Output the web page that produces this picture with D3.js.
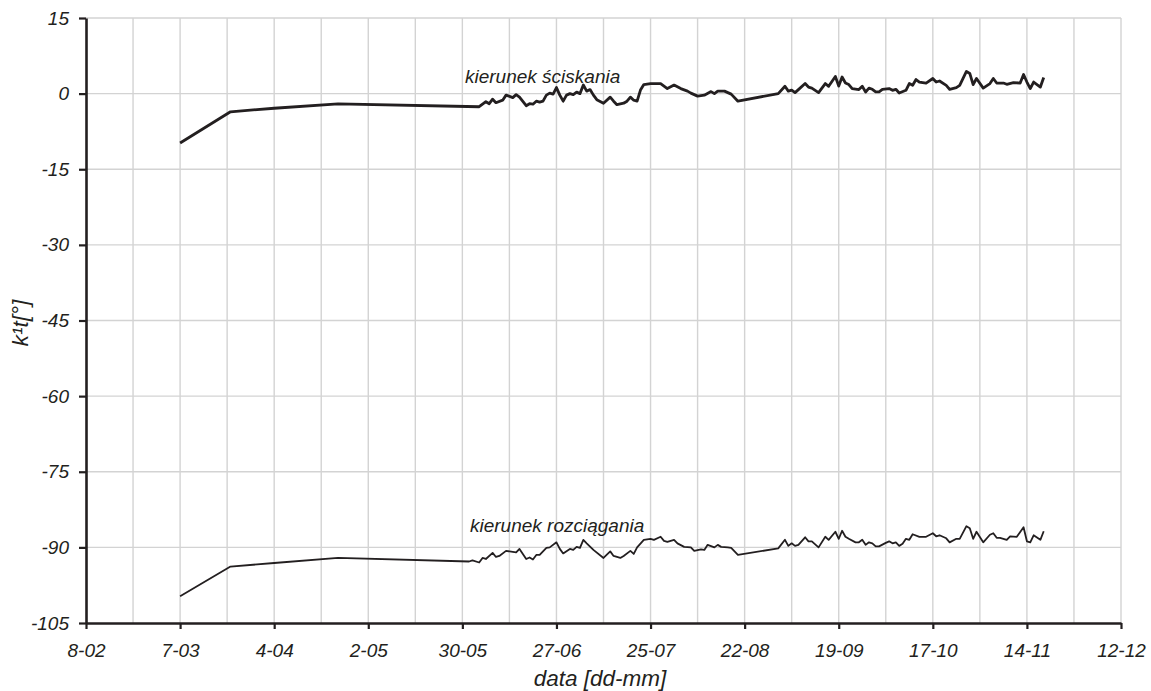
<!DOCTYPE html>
<html>
<head>
<meta charset="utf-8">
<script src="https://cdn.jsdelivr.net/npm/d3@7"></script>
<style>
  body { margin: 0; background: #fff; }
  svg { display: block; }
  text { font-family: "Liberation Sans", Arial, sans-serif; font-style: italic; fill: #231f20; }
</style>
</head>
<body>
<svg id="chart" width="1151" height="691"></svg>
<script>
// Measurement year (leap year) and the observed period
const YEAR = 2008;
const periodStart = [1, 8];   // month index, day  -> 8 Feb
const periodEnd = [11, 12];   // -> 12 Dec

// Direction "kierunek ściskania": day of year and angle [°]
const compressionDays = [67, 82, 95, 114, 156, 157, 158, 159, 160, 161, 163, 164, 166, 167, 168,
  170, 171, 172, 173, 174, 175, 176, 177, 178, 179, 180, 181, 182, 183, 184, 185, 186, 187, 188,
  189, 190, 191, 193, 195, 196, 197, 199, 200, 201, 202, 203, 204, 205, 207, 210, 212, 214, 216,
  218, 219, 221, 223, 225, 226, 227, 229, 231, 233, 245, 247, 248, 249, 250, 251, 253, 254, 255,
  257, 259, 260, 262, 263, 264, 265, 266, 267, 269, 270, 271, 272, 273, 274, 275, 276, 278, 279,
  280, 281, 283, 284, 285, 286, 287, 289, 291, 292, 293, 295, 296, 298, 299, 301, 302, 303, 304,
  306, 308, 309, 310, 312, 313, 315, 317, 318, 319, 320, 321, 323, 324];
const compressionValues = [-9.8, -3.6, -2.9, -2.05, -2.6, -2.1, -1.6, -2.0, -1.1, -1.8, -1.3, -0.3,
  -0.8, -0.2, -0.7, -2.4, -2.0, -2.1, -1.5, -1.7, -1.5, -0.3, 0.1, -0.1, 1.2, -0.3, -1.5, -0.3, 0.0,
  -0.2, 0.3, 0.0, 1.7, 0.5, 0.8, -0.3, -1.2, -1.9, -0.7, -1.5, -2.2, -1.9, -1.5, -0.7, -1.3, -1.5,
  0.7, 1.8, 2.0, 2.0, 1.0, 1.7, 1.0, 0.5, 0.1, -0.5, -0.3, 0.4, 0.0, 0.5, 0.5, -0.1, -1.5, 0.0,
  1.45, 0.5, 0.7, 0.2, 0.8, 2.0, 1.3, 1.1, 0.2, 2.0, 1.45, 3.4, 1.5, 3.3, 2.1, 1.8, 1.0, 0.8, 1.45,
  0.33, 1.1, 0.86, 0.33, 0.33, 0.86, 1.0, 0.66, 0.86, 0.13, 0.66, 2.0, 1.65, 2.8, 2.3, 2.1, 3.0,
  2.3, 2.5, 1.65, 0.86, 1.2, 1.65, 4.4, 4.0, 1.8, 3.0, 1.1, 2.0, 3.0, 2.1, 2.1, 1.85, 2.2, 2.1,
  3.8, 2.3, 1.0, 2.3, 1.3, 3.2];

// Direction "kierunek rozciągania": day of year and angle [°]
const tensionDays = [67, 82, 95, 114, 153, 154, 156, 157, 158, 160, 161, 162, 164, 166, 167, 168,
  170, 171, 172, 173, 174, 176, 177, 179, 180, 181, 183, 184, 185, 186, 187, 188, 190, 193, 195,
  196, 198, 199, 201, 202, 203, 205, 207, 208, 210, 211, 212, 214, 215, 217, 219, 220, 222, 223,
  224, 226, 227, 228, 230, 231, 233, 245, 247, 248, 249, 250, 251, 253, 254, 255, 257, 259, 260,
  262, 263, 264, 265, 266, 268, 269, 270, 271, 272, 273, 274, 275, 277, 278, 279, 280, 281, 282,
  283, 284, 285, 287, 289, 291, 292, 293, 295, 296, 298, 299, 301, 302, 303, 304, 306, 308, 309,
  310, 311, 313, 314, 316, 318, 319, 320, 321, 323, 324];
const tensionValues = [-99.7, -93.8, -93.1, -92.1, -92.8, -92.6, -93.0, -92.1, -92.3, -91.1, -91.9,
  -91.7, -90.7, -90.9, -91.0, -90.3, -92.3, -92.0, -92.4, -91.5, -91.5, -90.1, -90.0, -89.0, -90.3,
  -91.2, -90.3, -90.5, -89.9, -90.1, -88.5, -89.2, -90.5, -92.1, -90.8, -91.7, -92.1, -91.7, -90.7,
  -91.3, -90.0, -88.5, -88.3, -88.5, -87.9, -88.7, -88.9, -88.5, -89.2, -89.9, -90.0, -90.7, -90.4,
  -90.5, -89.5, -90.0, -89.5, -89.9, -90.0, -90.1, -91.5, -90.2, -88.5, -89.7, -89.2, -89.7, -89.5,
  -88.0, -88.8, -88.8, -90.0, -87.9, -88.5, -86.9, -88.3, -86.7, -87.9, -88.3, -89.0, -89.0, -88.5,
  -89.5, -89.0, -89.2, -89.8, -89.8, -89.1, -88.8, -89.2, -89.0, -89.7, -89.3, -88.3, -88.5, -87.4,
  -87.9, -87.9, -87.2, -87.8, -87.6, -88.2, -89.0, -88.3, -88.3, -85.8, -86.2, -88.3, -86.9, -89.0,
  -87.5, -87.2, -88.1, -88.1, -88.5, -87.8, -87.9, -86.0, -88.8, -89.0, -87.6, -88.5, -86.8];

const yTicks = [15, 0, -15, -30, -45, -60, -75, -90, -105];
const seriesLabels = ["kierunek ściskania", "kierunek rozciągania"];
const xTitle = "data [dd-mm]";
const yTitle = "k¹t[°]";

const dayToDate = d => new Date(YEAR, 0, d);
const compression = compressionDays.map((d, i) => ({ date: dayToDate(d), value: compressionValues[i] }));
const tension = tensionDays.map((d, i) => ({ date: dayToDate(d), value: tensionValues[i] }));

const ink = "#231f20";
const gridColor = "#d3d3d3";
const plotLeft = 86, plotRight = 1121, plotTop = 18, plotBottom = 623;

const svg = d3.select("#chart");
const t0 = new Date(YEAR, periodStart[0], periodStart[1]);
const t1 = new Date(YEAR, periodEnd[0], periodEnd[1]);

const x = d3.scaleTime().domain([t0, t1]).range([plotLeft, plotRight]);
const y = d3.scaleLinear().domain([-105, 15]).range([plotBottom, plotTop]);

const majorDates = d3.timeDay.range(t0, d3.timeDay.offset(t1, 1), 28);
const gridDates = d3.timeDay.range(t0, d3.timeDay.offset(t1, 1), 14);

// grid
const grid = svg.append("g");
grid.selectAll("line.v").data(gridDates.slice(1)).join("line")
  .attr("class", "v")
  .attr("x1", d => x(d)).attr("x2", d => x(d))
  .attr("y1", plotTop).attr("y2", plotBottom)
  .attr("stroke", gridColor).attr("stroke-width", 1.4);
grid.selectAll("line.h").data(yTicks.filter(v => v > -105)).join("line")
  .attr("class", "h")
  .attr("x1", plotLeft).attr("x2", plotRight)
  .attr("y1", d => y(d)).attr("y2", d => y(d))
  .attr("stroke", gridColor).attr("stroke-width", 1.4);

// axes
const xAxis = svg.append("g").attr("transform", `translate(0,${plotBottom})`)
  .call(d3.axisBottom(x).tickValues(majorDates).tickFormat(d3.timeFormat("%-d-%m"))
    .tickSize(6).tickSizeOuter(0).tickPadding(15));
const yAxis = svg.append("g").attr("transform", `translate(${plotLeft},0)`)
  .call(d3.axisLeft(y).tickValues(yTicks).tickFormat(d => String(d))
    .tickSize(7).tickSizeOuter(0).tickPadding(10));

[xAxis, yAxis].forEach(a => {
  a.select(".domain").attr("stroke", ink).attr("stroke-width", 2.6);
  a.selectAll(".tick line").attr("stroke", ink).attr("stroke-width", 2.2);
  a.selectAll(".tick text").attr("font-size", 19).attr("fill", ink)
    .attr("font-family", "'Liberation Sans', Arial, sans-serif").attr("font-style", "italic");
});

// series
const line = d3.line().x(d => x(d.date)).y(d => y(d.value));
svg.append("path").datum(compression)
  .attr("d", line).attr("fill", "none").attr("stroke", ink)
  .attr("stroke-width", 2.8).attr("stroke-linejoin", "round");
svg.append("path").datum(tension)
  .attr("d", line).attr("fill", "none").attr("stroke", ink)
  .attr("stroke-width", 1.8).attr("stroke-linejoin", "round");

// series labels
svg.append("text").attr("x", 465).attr("y", 82.5).attr("font-size", 19).text(seriesLabels[0]);
svg.append("text").attr("x", 470).attr("y", 532).attr("font-size", 19).text(seriesLabels[1]);

// axis titles
svg.append("text").attr("x", 600).attr("y", 686).attr("text-anchor", "middle")
  .attr("font-size", 22.5).text(xTitle);
svg.append("text").attr("transform", "translate(28,323) rotate(-90)")
  .attr("text-anchor", "middle").attr("font-size", 22.5).text(yTitle);
</script>
</body>
</html>
